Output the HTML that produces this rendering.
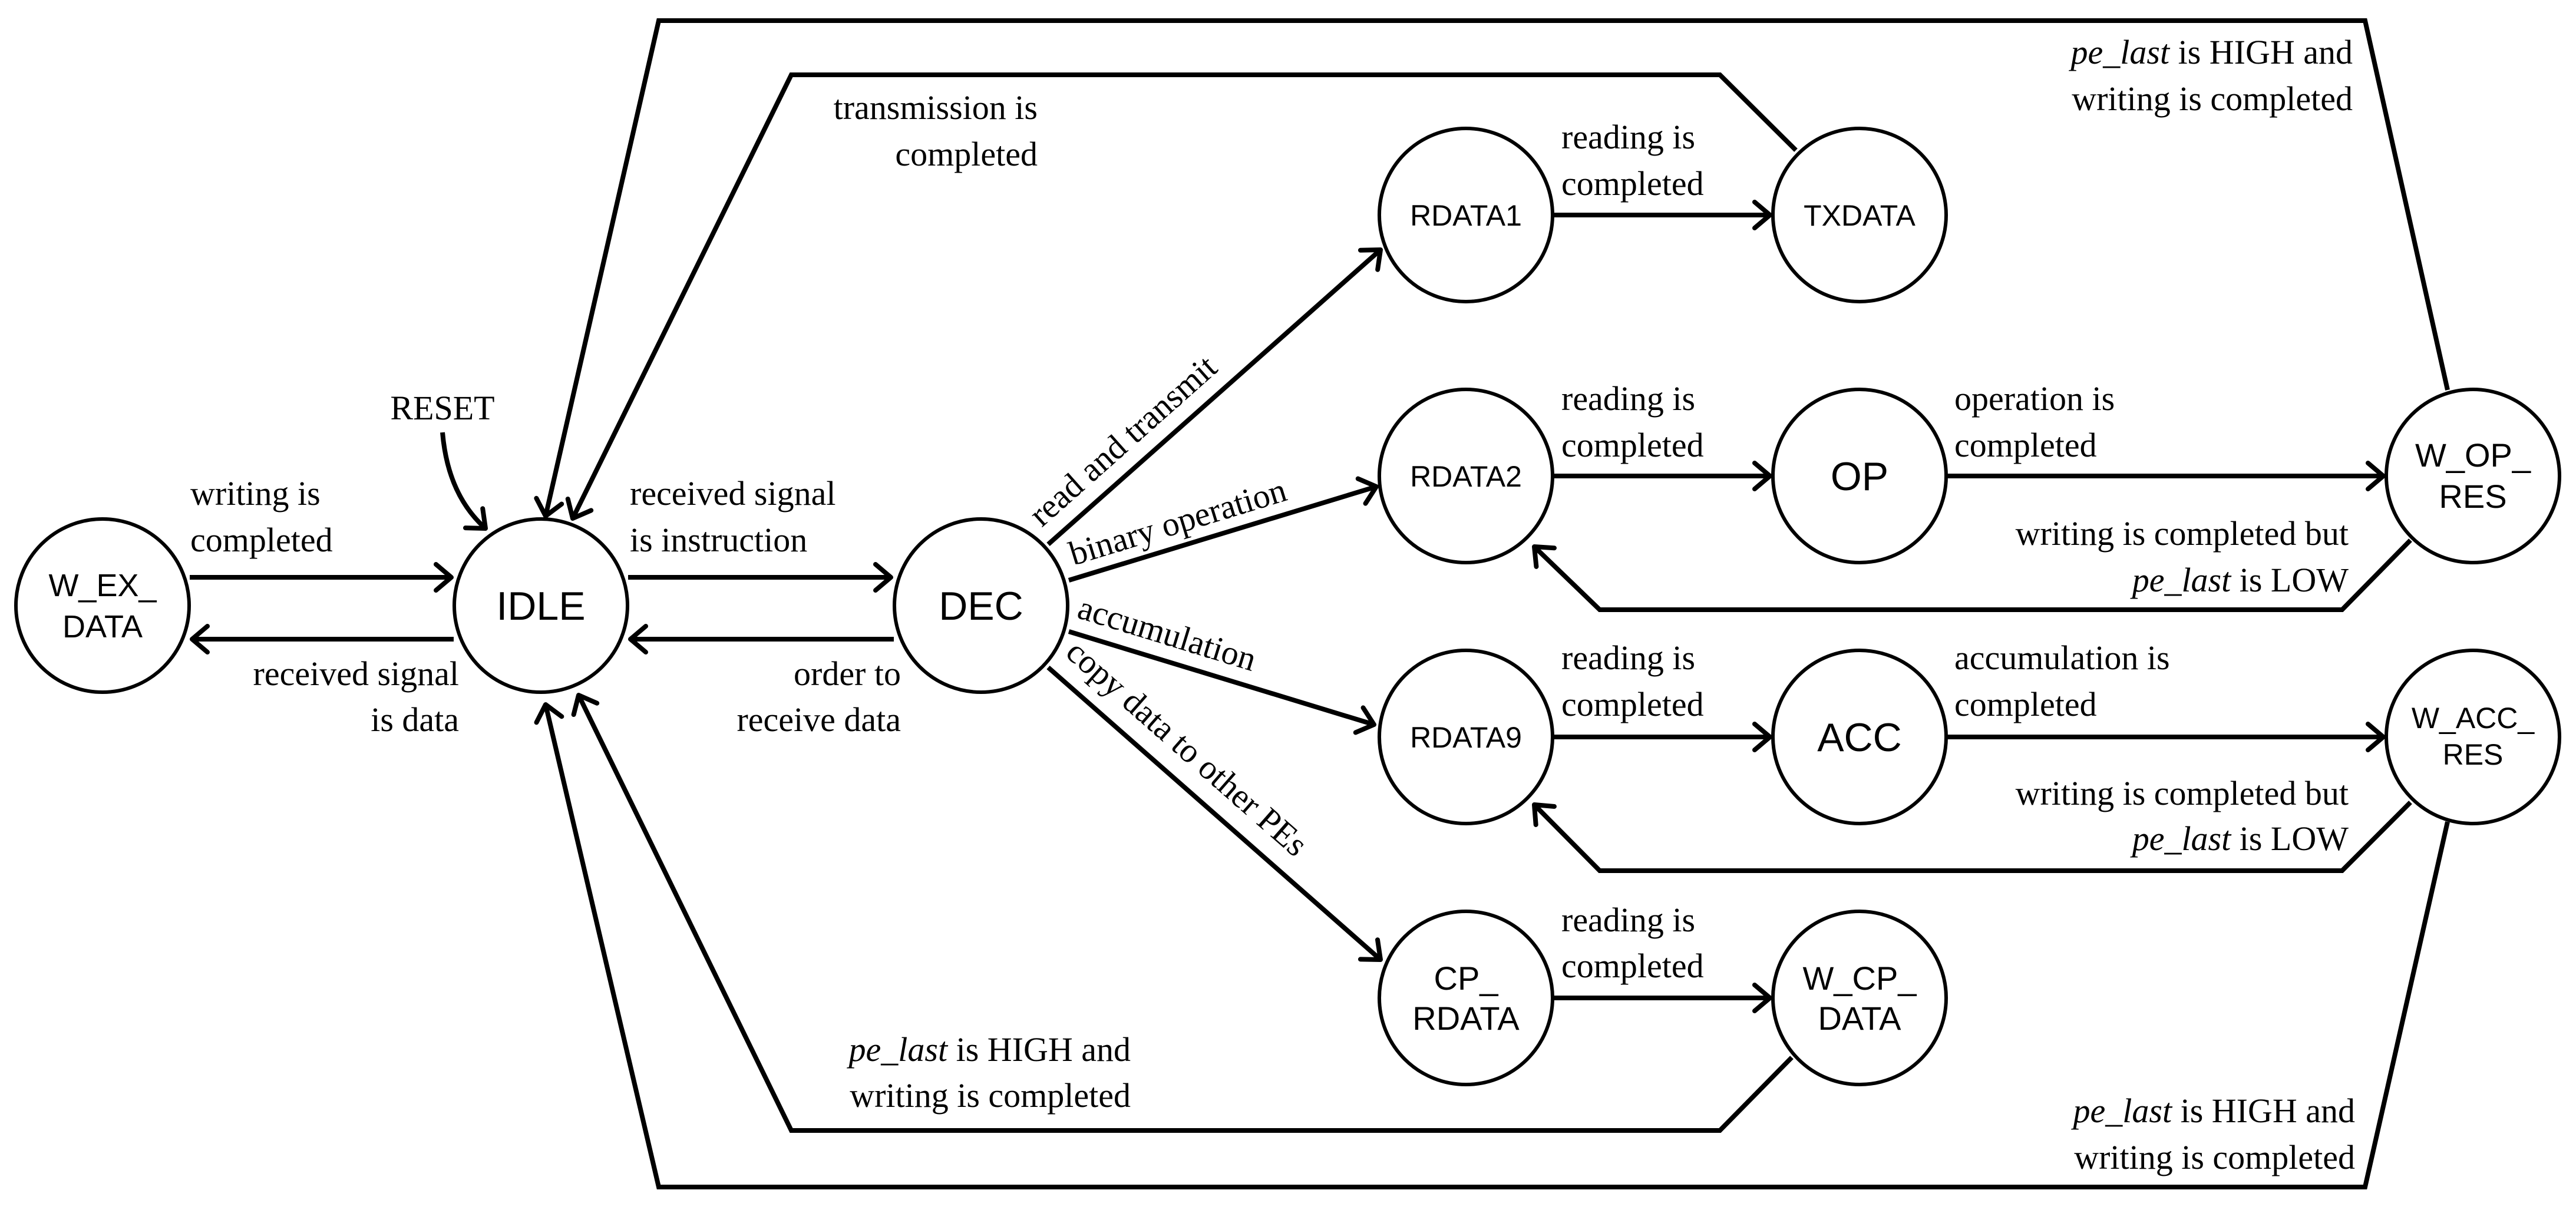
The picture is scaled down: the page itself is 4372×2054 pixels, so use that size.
<!DOCTYPE html>
<html><head><meta charset="utf-8"><style>
html,body{margin:0;padding:0;background:#fff;}
svg{display:block;}
.t text{font-family:"Liberation Serif","Times New Roman",serif;font-size:58px;fill:#000;}
.s{font-family:"Liberation Sans",sans-serif;fill:#000;text-anchor:middle;}
</style></head><body>
<svg width="4372" height="2054" viewBox="0 0 4372 2054" xmlns="http://www.w3.org/2000/svg">
<defs>
<marker id="a" markerUnits="userSpaceOnUse" markerWidth="60" markerHeight="60" refX="30" refY="30" orient="auto">
<polyline points="4,8 30,30 4,52" fill="none" stroke="#000" stroke-width="8" stroke-linecap="round" stroke-linejoin="round"/>
</marker>
</defs>
<g fill="none" stroke="#000" stroke-width="8" stroke-linejoin="miter">
<line x1="322" y1="980" x2="766" y2="980" marker-end="url(#a)"/>
<line x1="770" y1="1085" x2="326" y2="1085" marker-end="url(#a)"/>
<line x1="1066" y1="980" x2="1512" y2="980" marker-end="url(#a)"/>
<line x1="1517" y1="1085" x2="1070" y2="1085" marker-end="url(#a)"/>
<path d="M751 734 Q760 840 824 897" marker-end="url(#a)"/>
<polyline points="4154,662 4014,35 1118,35 926,876" marker-end="url(#a)"/>
<polyline points="3048,255 2919,127 1343,127 972,880" marker-end="url(#a)"/>
<polyline points="3041,1795 2919,1919 1343,1919 982,1180" marker-end="url(#a)"/>
<polyline points="4154,1395 4014,2015 1118,2015 926,1196" marker-end="url(#a)"/>
<line x1="1779" y1="924" x2="2343" y2="424" marker-end="url(#a)"/>
<line x1="1814" y1="985" x2="2336" y2="826" marker-end="url(#a)"/>
<line x1="1814" y1="1072" x2="2332" y2="1230" marker-end="url(#a)"/>
<line x1="1779" y1="1133" x2="2343" y2="1629" marker-end="url(#a)"/>
<line x1="2636" y1="365" x2="3004" y2="365" marker-end="url(#a)"/>
<line x1="2636" y1="808" x2="3004" y2="808" marker-end="url(#a)"/>
<line x1="3304" y1="808" x2="4045" y2="808" marker-end="url(#a)"/>
<line x1="2636" y1="1251" x2="3004" y2="1251" marker-end="url(#a)"/>
<line x1="3304" y1="1251" x2="4045" y2="1251" marker-end="url(#a)"/>
<line x1="2636" y1="1694" x2="3004" y2="1694" marker-end="url(#a)"/>
<polyline points="4091,917 3975,1035 2715,1035 2604,928" marker-end="url(#a)"/>
<polyline points="4091,1362 3975,1478 2715,1478 2604,1366" marker-end="url(#a)"/>
</g>
<g fill="#fff" stroke="#000" stroke-width="6">
<circle cx="174" cy="1028" r="147"/>
<circle cx="918" cy="1028" r="147"/>
<circle cx="1665" cy="1028" r="147"/>
<circle cx="2488" cy="365" r="147"/>
<circle cx="3156" cy="365" r="147"/>
<circle cx="2488" cy="808" r="147"/>
<circle cx="3156" cy="808" r="147"/>
<circle cx="4197" cy="808" r="147"/>
<circle cx="2488" cy="1251" r="147"/>
<circle cx="3156" cy="1251" r="147"/>
<circle cx="4197" cy="1251" r="147"/>
<circle cx="2488" cy="1694" r="147"/>
<circle cx="3156" cy="1694" r="147"/>
</g>
<g class="s">
<text x="174" y="1012" font-size="54">W_EX_</text><text x="174" y="1082" font-size="54">DATA</text>
<text x="918" y="1052" font-size="68">IDLE</text>
<text x="1665" y="1052" font-size="68">DEC</text>
<text x="2488" y="383" font-size="50">RDATA1</text>
<text x="3156" y="383" font-size="50">TXDATA</text>
<text x="2488" y="826" font-size="50">RDATA2</text>
<text x="3156" y="832" font-size="68">OP</text>
<text x="4197" y="792" font-size="56">W_OP_</text><text x="4197" y="862" font-size="56">RES</text>
<text x="2488" y="1269" font-size="50">RDATA9</text>
<text x="3156" y="1275" font-size="68">ACC</text>
<text x="4197" y="1236" font-size="50">W_ACC_</text><text x="4197" y="1298" font-size="50">RES</text>
<text x="2488" y="1680" font-size="56">CP_</text><text x="2488" y="1748" font-size="56">RDATA</text>
<text x="3156" y="1680" font-size="56">W_CP_</text><text x="3156" y="1748" font-size="56">DATA</text>
</g>
<g class="t" font-family="Liberation Serif, serif" font-size="58">
<text x="323" y="857">writing is</text><text x="323" y="936">completed</text>
<text x="779" y="1163" text-anchor="end">received signal</text><text x="779" y="1241" text-anchor="end">is data</text>
<text x="1069" y="857">received signal</text><text x="1069" y="936">is instruction</text>
<text x="1529" y="1163" text-anchor="end">order to</text><text x="1529" y="1241" text-anchor="end">receive data</text>
<text x="751" y="712" text-anchor="middle">RESET</text>
<text x="1761" y="202" text-anchor="end">transmission is</text><text x="1761" y="281" text-anchor="end">completed</text>
<text x="1919" y="1801" text-anchor="end"><tspan font-style="italic">pe_last</tspan> is HIGH and</text><text x="1919" y="1879" text-anchor="end">writing is completed</text>
<text x="3993" y="108" text-anchor="end"><tspan font-style="italic">pe_last</tspan> is HIGH and</text><text x="3993" y="187" text-anchor="end">writing is completed</text>
<text x="3997" y="1905" text-anchor="end"><tspan font-style="italic">pe_last</tspan> is HIGH and</text><text x="3997" y="1984" text-anchor="end">writing is completed</text>
<text x="2650" y="252">reading is</text><text x="2650" y="331">completed</text>
<text x="2650" y="696">reading is</text><text x="2650" y="775">completed</text>
<text x="2650" y="1136">reading is</text><text x="2650" y="1215">completed</text>
<text x="2650" y="1581">reading is</text><text x="2650" y="1659">completed</text>
<text x="3317" y="696">operation is</text><text x="3317" y="775">completed</text>
<text x="3317" y="1136">accumulation is</text><text x="3317" y="1215">completed</text>
<text x="3986" y="925" text-anchor="end">writing is completed but</text><text x="3986" y="1004" text-anchor="end"><tspan font-style="italic">pe_last</tspan> is LOW</text>
<text x="3986" y="1366" text-anchor="end">writing is completed but</text><text x="3986" y="1443" text-anchor="end"><tspan font-style="italic">pe_last</tspan> is LOW</text>
<text transform="translate(1768,896) rotate(-41.6)">read and transmit</text>
<text transform="translate(1822,960) rotate(-17)">binary operation</text>
<text transform="translate(1826,1048) rotate(17)">accumulation</text>
<text transform="translate(1806,1112) rotate(41.3)">copy data to other PEs</text>
</g>
</svg>
</body></html>
